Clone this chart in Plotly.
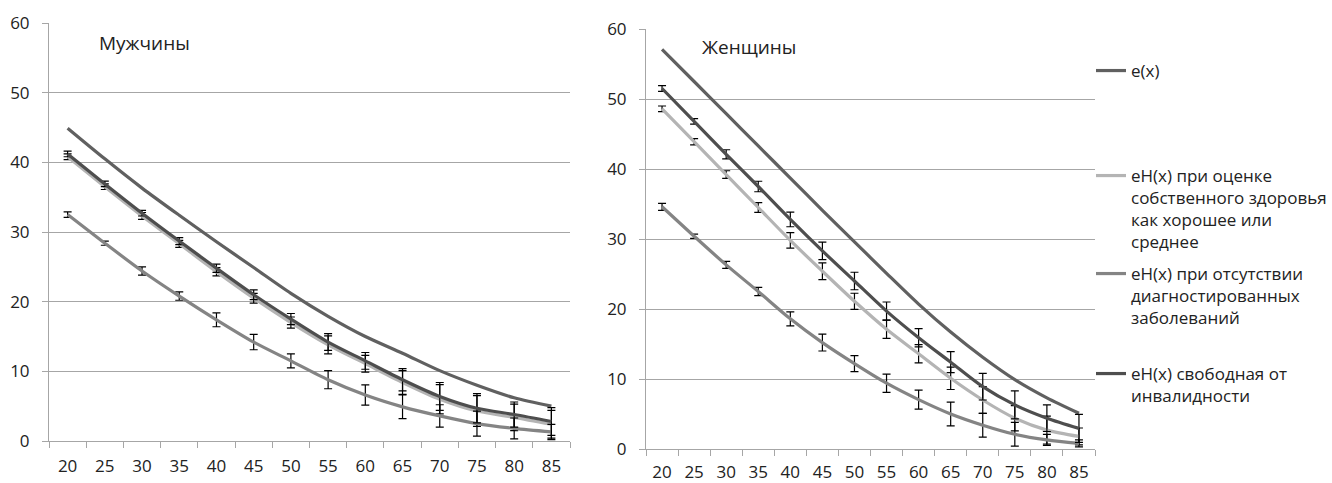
import plotly.graph_objects as go

ages = ["20", "25", "30", "35", "40", "45", "50", "55", "60", "65", "70", "75", "80", "85"]

names = [
    "e(x)",
    "eH(x) при оценке<br>собственного здоровья<br>как хорошее или<br>среднее",
    "eH(x) при отсутствии<br>диагностированных<br>заболеваний",
    "eH(x) свободная от<br>инвалидности",
]

# Men
men_e = [44.9, 40.5, 36.3, 32.4, 28.6, 24.9, 21.2, 17.9, 15.0, 12.6, 10.1, 8.0, 6.2, 5.0]
men_sa = [40.8, 36.5, 32.3, 28.3, 24.3, 20.5, 17.0, 13.8, 11.1, 8.4, 6.0, 4.3, 3.4, 2.4]
men_sa_err = [0.4, 0.4, 0.5, 0.5, 0.6, 0.7, 0.8, 1.3, 1.2, 1.7, 2.1, 2.2, 1.9, 2.0]
men_nd = [32.5, 28.4, 24.4, 20.8, 17.4, 14.2, 11.5, 8.8, 6.6, 4.9, 3.6, 2.5, 1.8, 1.3]
men_nd_err = [0.4, 0.3, 0.6, 0.6, 1.0, 1.1, 1.0, 1.3, 1.45, 1.7, 1.6, 1.8, 1.5, 1.1]
men_df = [41.2, 36.9, 32.7, 28.7, 24.8, 21.0, 17.5, 14.2, 11.5, 8.8, 6.4, 4.7, 3.8, 2.8]
men_df_err = [0.4, 0.4, 0.4, 0.5, 0.6, 0.7, 0.8, 1.2, 1.2, 1.6, 2.0, 2.1, 1.8, 2.0]

# Women
wom_e = [57.1, 52.5, 47.9, 43.3, 38.7, 34.1, 29.6, 25.1, 20.7, 16.7, 13.1, 9.9, 7.3, 5.1]
wom_sa = [48.6, 43.9, 39.2, 34.5, 29.8, 25.4, 21.1, 17.1, 13.6, 10.1, 7.0, 4.4, 2.7, 1.8]
wom_sa_err = [0.4, 0.45, 0.55, 0.7, 1.1, 1.2, 1.15, 1.3, 1.3, 1.6, 1.9, 1.8, 2.0, 1.2]
wom_nd = [34.6, 30.4, 26.3, 22.5, 18.6, 15.2, 12.2, 9.4, 7.05, 5.0, 3.4, 2.1, 1.3, 0.8]
wom_nd_err = [0.5, 0.3, 0.5, 0.6, 1.0, 1.2, 1.15, 1.3, 1.35, 1.7, 1.7, 1.7, 0.8, 0.5]
wom_df = [51.5, 46.8, 42.1, 37.5, 32.8, 28.3, 24.0, 19.7, 15.9, 12.4, 8.9, 6.3, 4.4, 2.95]
wom_df_err = [0.4, 0.4, 0.65, 0.75, 1.05, 1.25, 1.25, 1.3, 1.3, 1.5, 1.9, 2.0, 1.9, 2.0]

colors = ["#606060", "#b4b4b4", "#848484", "#4e4e4e"]
legends = ["legend", "legend2", "legend3", "legend4"]

W, H = 1332, 483
FONT = "Open Sans"

fig = go.Figure()

def add_series(xa, ya, series, showleg):
    for i, (vals, err) in enumerate(series):
        kw = {}
        if err is not None:
            kw["error_y"] = dict(type="data", array=err, visible=True, color="black",
                                 thickness=1.2, width=4)
        fig.add_trace(go.Scatter(
            x=ages, y=vals, mode="lines", name=names[i],
            line=dict(color=colors[i], width=3.2, shape="spline", smoothing=0.8),
            xaxis=xa, yaxis=ya, showlegend=showleg, legend=legends[i], **kw))

add_series("x", "y", [(men_e, None), (men_sa, men_sa_err), (men_nd, men_nd_err), (men_df, men_df_err)], False)
add_series("x2", "y2", [(wom_e, None), (wom_sa, wom_sa_err), (wom_nd, wom_nd_err), (wom_df, wom_df_err)], True)

def xaxis_cfg(standoff):
    return dict(type="category", range=[-0.5, 13.5], showline=True, linecolor="#a6a6a6",
                linewidth=1, ticks="outside", tickson="boundaries", ticklen=6,
                tickcolor="#a6a6a6", showgrid=False, zeroline=False, automargin=False,
                tickfont=dict(family=FONT, size=17, color="#222"), ticklabelstandoff=standoff)

axis_common_y = dict(range=[0, 60], dtick=10, showline=True, linecolor="#a6a6a6", linewidth=1,
                     ticks="outside", ticklen=6, tickcolor="#a6a6a6", showgrid=True,
                     gridcolor="#a6a6a6", gridwidth=1, zeroline=False, automargin=False,
                     tickfont=dict(family=FONT, size=17, color="#222"), ticklabelstandoff=9)

fig.update_layout(
    width=W, height=H, margin=dict(l=0, r=0, t=0, b=0, autoexpand=False),
    paper_bgcolor="white", plot_bgcolor="white",
    xaxis=dict(domain=[49 / W, 570 / W], anchor="y", **xaxis_cfg(10)),
    yaxis=dict(domain=[1 - 441 / H, 1 - 23 / H], anchor="x", **axis_common_y),
    xaxis2=dict(domain=[646 / W, 1095 / W], anchor="y2", **xaxis_cfg(8)),
    yaxis2=dict(domain=[1 - 449 / H, 1 - 29 / H], anchor="x2", **axis_common_y),
)

leg_tops = [53, 158, 256, 356]
for lg, top in zip(legends, leg_tops):
    fig.update_layout({lg: dict(x=1091 / W, xanchor="left", y=1 - top / H, yanchor="top",
                                valign="top", bgcolor="rgba(0,0,0,0)", borderwidth=0,
                                font=dict(family=FONT, size=17, color="#222"),
                                itemclick=False)})

fig.add_annotation(x=97 / W, y=1 - 43 / H, xref="paper", yref="paper", xanchor="left",
                   yanchor="middle", text="Мужчины", showarrow=False,
                   font=dict(family=FONT, size=19, color="#222"))
fig.add_annotation(x=700 / W, y=1 - 47 / H, xref="paper", yref="paper", xanchor="left",
                   yanchor="middle", text="Женщины", showarrow=False,
                   font=dict(family=FONT, size=19, color="#222"))

fig.write_html("out.html")
